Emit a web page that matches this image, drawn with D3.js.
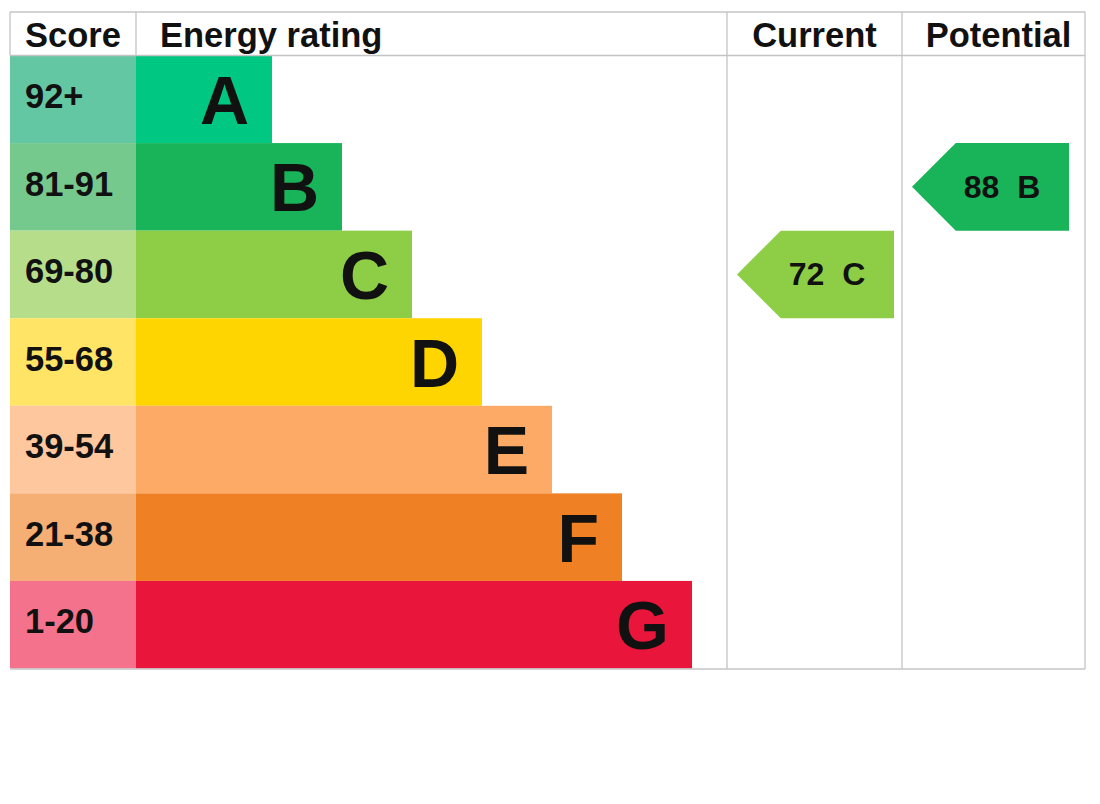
<!DOCTYPE html>
<html><head><meta charset="utf-8">
<script src="https://cdn.jsdelivr.net/npm/d3@7"></script>
<style>body{margin:0;background:#fff}svg{display:block}text{font-family:"Liberation Sans",Arial,sans-serif;font-weight:bold;fill:#111}</style>
</head><body>
<svg id="c" width="1100" height="804"></svg>
<script>
const bands = ["A","B","C","D","E","F","G"];
const scoreLabels = ["92+","81-91","69-80","55-68","39-54","21-38","1-20"];
const bandColors = ["#00c781","#19b459","#8dce46","#ffd500","#fcaa65","#ef8023","#e9153b"];
const scoreColors = ["#63c7a4","#76c98d","#b6de8a","#ffe466","#fec79d","#f5ae74","#f4728b"];
const thresholds = [21,39,55,69,81,92];
const headers = ["Score","Energy rating","Current","Potential"];
const currentScore = 72;
const potentialScore = 88;

const svg = d3.select("#c");
const L=10, R=1085, T=12, H=55.5, B=668.5;
const cols=[10,136,727,902,1085];
const grid="#c4c4c4";

const y = d3.scaleBand().domain(bands).range([H,B]);
const barEnd = d3.scaleLinear().domain([0,6]).range([272,692]);
const rate = d3.scaleThreshold().domain(thresholds).range(bands.slice().reverse());

// score cells
svg.selectAll("rect.s").data(bands).join("rect")
  .attr("x",cols[0]).attr("y",d=>y(d)).attr("width",cols[1]-cols[0]).attr("height",y.bandwidth())
  .attr("fill",(d,i)=>scoreColors[i]);
svg.selectAll("text.s").data(scoreLabels).join("text")
  .attr("x",25).attr("y",(d,i)=>y(bands[i])+52.5).attr("font-size",34.5).text(d=>d);

// bars
svg.selectAll("rect.b").data(bands).join("rect")
  .attr("x",cols[1]).attr("y",d=>y(d)).attr("width",(d,i)=>barEnd(i)-cols[1]).attr("height",y.bandwidth())
  .attr("fill",(d,i)=>bandColors[i]);
svg.selectAll("text.b").data(bands).join("text")
  .attr("x",(d,i)=>barEnd(i)-23).attr("y",d=>y(d)+y.bandwidth()/2+24.5)
  .attr("text-anchor","end").attr("font-size",68).text(d=>d);

// grid
const g=svg.append("g").attr("stroke",grid).attr("stroke-width",1.3).attr("fill","none");
g.append("line").attr("x1",L).attr("x2",R).attr("y1",T).attr("y2",T);
g.append("line").attr("x1",L).attr("x2",R).attr("y1",H).attr("y2",H);
g.append("line").attr("x1",L).attr("x2",R).attr("y1",B+0.5).attr("y2",B+0.5);
[cols[0],cols[1]].forEach(x=>g.append("line").attr("x1",x).attr("x2",x).attr("y1",T).attr("y2",H));
[cols[2],cols[3],cols[4]].forEach(x=>g.append("line").attr("x1",x).attr("x2",x).attr("y1",T).attr("y2",B+0.5));

// headers
const hx=[(cols[0]+cols[1])/2,160,(cols[2]+cols[3])/2,(cols[3]+cols[4])/2+5];
const ha=["middle","start","middle","middle"];
svg.selectAll("text.h").data(headers).join("text")
  .attr("x",(d,i)=>hx[i]).attr("y",46.5).attr("text-anchor",(d,i)=>ha[i]).attr("font-size",34.5).text(d=>d);

// arrows
function arrow(score,colIdx){
  const band=rate(score), i=bands.indexOf(band);
  const x0=cols[colIdx]+10, w=157, top=y(band), h=y.bandwidth(), tip=h/2;
  svg.append("path").attr("fill",bandColors[i])
    .attr("d",`M${x0},${top+h/2}L${x0+tip},${top}L${x0+w},${top}L${x0+w},${top+h}L${x0+tip},${top+h}Z`);
  svg.append("text").attr("x",x0+90).attr("y",top+h/2+11).attr("text-anchor","middle")
    .attr("font-size",32).style("white-space","pre").text(score+"  "+band);
}
arrow(currentScore,2);
arrow(potentialScore,3);
</script>
</body></html>
